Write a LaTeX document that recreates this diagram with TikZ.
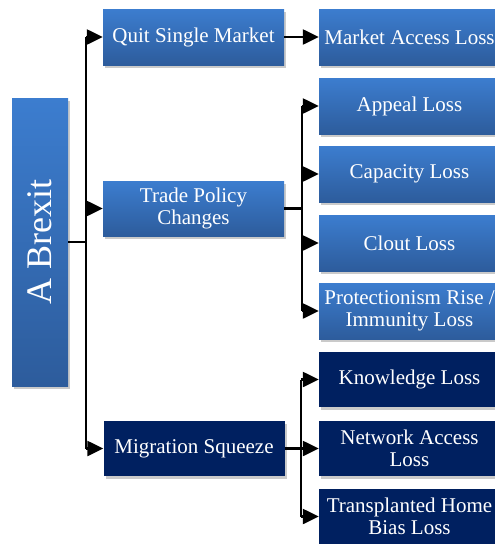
\documentclass[tikz,border=0pt]{standalone}
\usepackage{fontspec}
\setmainfont{Liberation Serif}
\usetikzlibrary{arrows.meta,shadows}
\definecolor{ltop}{HTML}{3C7DCF}
\definecolor{lbot}{HTML}{2D5C9C}
\definecolor{navy}{HTML}{002060}
\tikzset{
  boxbase/.style={draw=none, text=white, align=center, inner sep=2pt,
    font=\fontsize{21}{22.5}\selectfont,
    drop shadow={shadow xshift=2pt, shadow yshift=-3pt, opacity=0.35, fill=black!60}},
  lbox/.style={boxbase, top color=ltop, bottom color=lbot, minimum width=181pt, minimum height=56pt},
  dbox/.style={boxbase, fill=navy, minimum width=181pt, minimum height=56pt},
  conn/.style={line width=2.4pt, black},
  arr/.style={conn, -{Triangle[length=16pt,width=15pt]}},
}
\begin{document}
\begin{tikzpicture}[x=1pt,y=-1pt]
\useasboundingbox (0,0) rectangle (495,544);
\begin{scope}
\clip (0,0) rectangle (495,544);
% root
\node[lbox, minimum width=56pt, minimum height=288pt] (brexit) at (40,242) {};
\node[text=white, rotate=90, font=\fontsize{36}{36}\selectfont] (brexitlbl) at (brexit.center) {A Brexit};
% level 1
\node[lbox] (quit) at (193.5,37) {Quit Single Market};
\node[lbox, minimum height=55pt] (trade) at (193.5,208.5) {Trade Policy\\Changes};
\node[dbox, minimum height=55pt] (mig) at (194,448.5) {Migration Squeeze};
% level 2
\node[lbox] (market) at (409.5,37) {Market Access Loss};
\node[lbox] (appeal) at (409.5,106) {Appeal Loss};
\node[lbox] (capacity) at (409.5,174) {Capacity Loss};
\node[lbox] (clout) at (409.5,243) {Clout Loss};
\node[lbox] (protect) at (409.5,311) {Protectionism Rise /\\Immunity Loss};
\node[dbox, minimum height=55pt] (know) at (409.5,379.5) {Knowledge Loss};
\node[dbox, minimum height=55pt] (network) at (409.5,448.5) {Network Access\\Loss};
\node[dbox, minimum height=55pt] (trans) at (409.5,516.5) {Transplanted Home\\Bias Loss};
% connectors from root
\coordinate (j1) at (86,242);
\draw[conn] (brexit.east |- j1) -- (j1);
\draw[conn] (j1 |- quit.west) -- (j1 |- mig.west);
\draw[arr] (j1 |- quit.west) -- (quit.west);
\draw[arr] (j1 |- trade.west) -- (trade.west);
\draw[arr] (j1 |- mig.west) -- (mig.west);
% quit -> market
\draw[arr] (quit.east) -- (market.west);
% trade
\coordinate (j2) at (302,208.5);
\draw[conn] (trade.east) -- (j2);
\draw[conn] (j2 |- appeal.west) -- (j2 |- protect.west);
\draw[arr] (j2 |- appeal.west) -- (appeal.west);
\draw[arr] (j2 |- capacity.west) -- (capacity.west);
\draw[arr] (j2 |- clout.west) -- (clout.west);
\draw[arr] (j2 |- protect.west) -- (protect.west);
% migration
\coordinate (j3) at (301,448.5);
\draw[conn] (mig.east) -- (j3);
\draw[conn] (j3 |- know.west) -- (j3 |- trans.west);
\draw[arr] (j3 |- know.west) -- (know.west);
\draw[arr] (j3 |- network.west) -- (network.west);
\draw[arr] (j3 |- trans.west) -- (trans.west);
\end{scope}
\end{tikzpicture}
\end{document}
